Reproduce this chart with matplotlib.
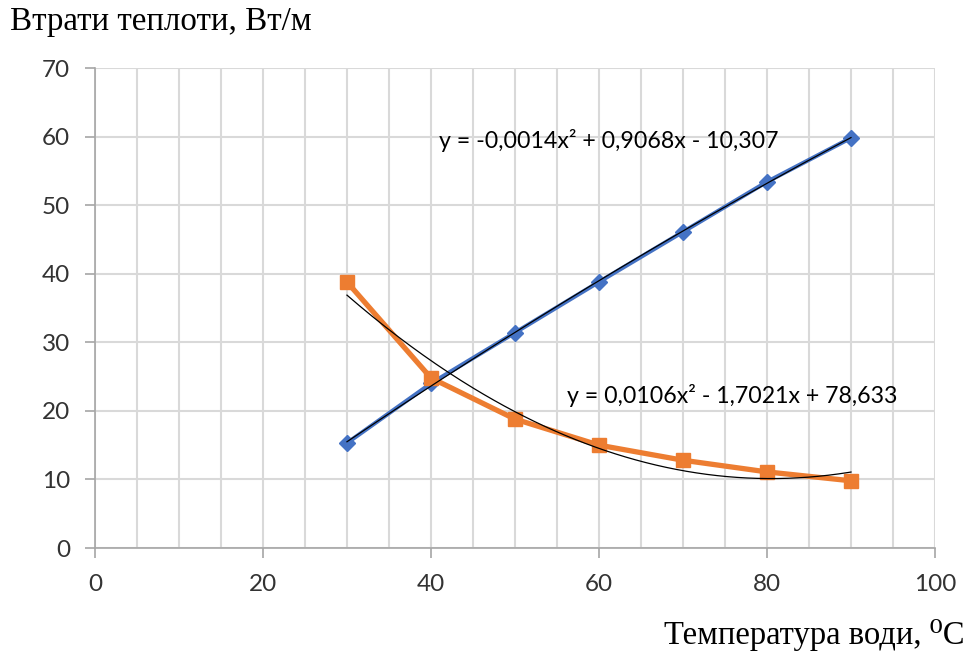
import numpy as np
import matplotlib.pyplot as plt
from matplotlib.ticker import MultipleLocator

# data
temperature = [30, 40, 50, 60, 70, 80, 90]
loss_blue = [15.3, 24.0, 31.4, 38.8, 46.1, 53.4, 59.8]
loss_orange = [38.8, 24.8, 18.8, 15.0, 12.8, 11.1, 9.8]
eq_blue = "y = -0,0014x² + 0,9068x - 10,307"
eq_orange = "y = 0,0106x² - 1,7021x + 78,633"
y_title = "Втрати теплоти, Вт/м"
x_title = "Температура води, ⁰C"

blue = '#4472C4'
orange = '#ED7D31'
grid_col = '#D9D9D9'

fig = plt.figure(figsize=(9.66, 6.52), dpi=100)
ax = fig.add_axes([0.0983, 0.1595, 0.8696, 0.7362])

ax.plot(temperature, loss_blue, color=blue, lw=3, marker='D', ms=8, zorder=3)
ax.plot(temperature, loss_orange, color=orange, lw=3.8, marker='s', ms=10, zorder=3)

# polynomial trendlines (2nd order) fitted to each series
xs = np.linspace(min(temperature), max(temperature), 200)
for ys in (loss_blue, loss_orange):
    coef = np.polyfit(temperature, ys, 2)
    ax.plot(xs, np.polyval(coef, xs), color='black', lw=0.9, zorder=4)

ax.set_xlim(0, 100)
ax.set_ylim(0, 70)
ax.xaxis.set_major_locator(MultipleLocator(20))
ax.xaxis.set_minor_locator(MultipleLocator(5))
ax.yaxis.set_major_locator(MultipleLocator(10))
ax.grid(True, which='both', axis='x', color=grid_col, lw=1.5)
ax.grid(True, which='major', axis='y', color=grid_col, lw=1.5)
ax.set_axisbelow(True)

for s in ['top', 'right']:
    ax.spines[s].set_visible(False)
for s in ['left', 'bottom']:
    ax.spines[s].set_color('#A6A6A6')
    ax.spines[s].set_linewidth(1.2)

ax.tick_params(axis='both', which='major', length=7, width=1.2, color='#A6A6A6',
               labelsize=17.5, labelcolor='#333333', pad=11)
ax.tick_params(axis='x', which='minor', length=0)
ax.tick_params(axis='x', which='major', pad=12)
for lab in ax.get_xticklabels() + ax.get_yticklabels():
    lab.set_family('Lato')

ax.text(41.0, 59.5, eq_blue, fontsize=16.7, family='Lato', color='black', va='center')
ax.text(56.2, 22.3, eq_orange, fontsize=16.7, family='Lato', color='black', va='center')

fig.text(0.01, 0.966, y_title, fontsize=23.8, family=['Liberation Serif', 'DejaVu Serif'],
         ha='left', va='center')
fig.text(0.998, 0.026, x_title, fontsize=23.5, family=['Liberation Serif', 'DejaVu Serif'],
         ha='right', va='center')

fig.savefig('out.png', dpi=100)
